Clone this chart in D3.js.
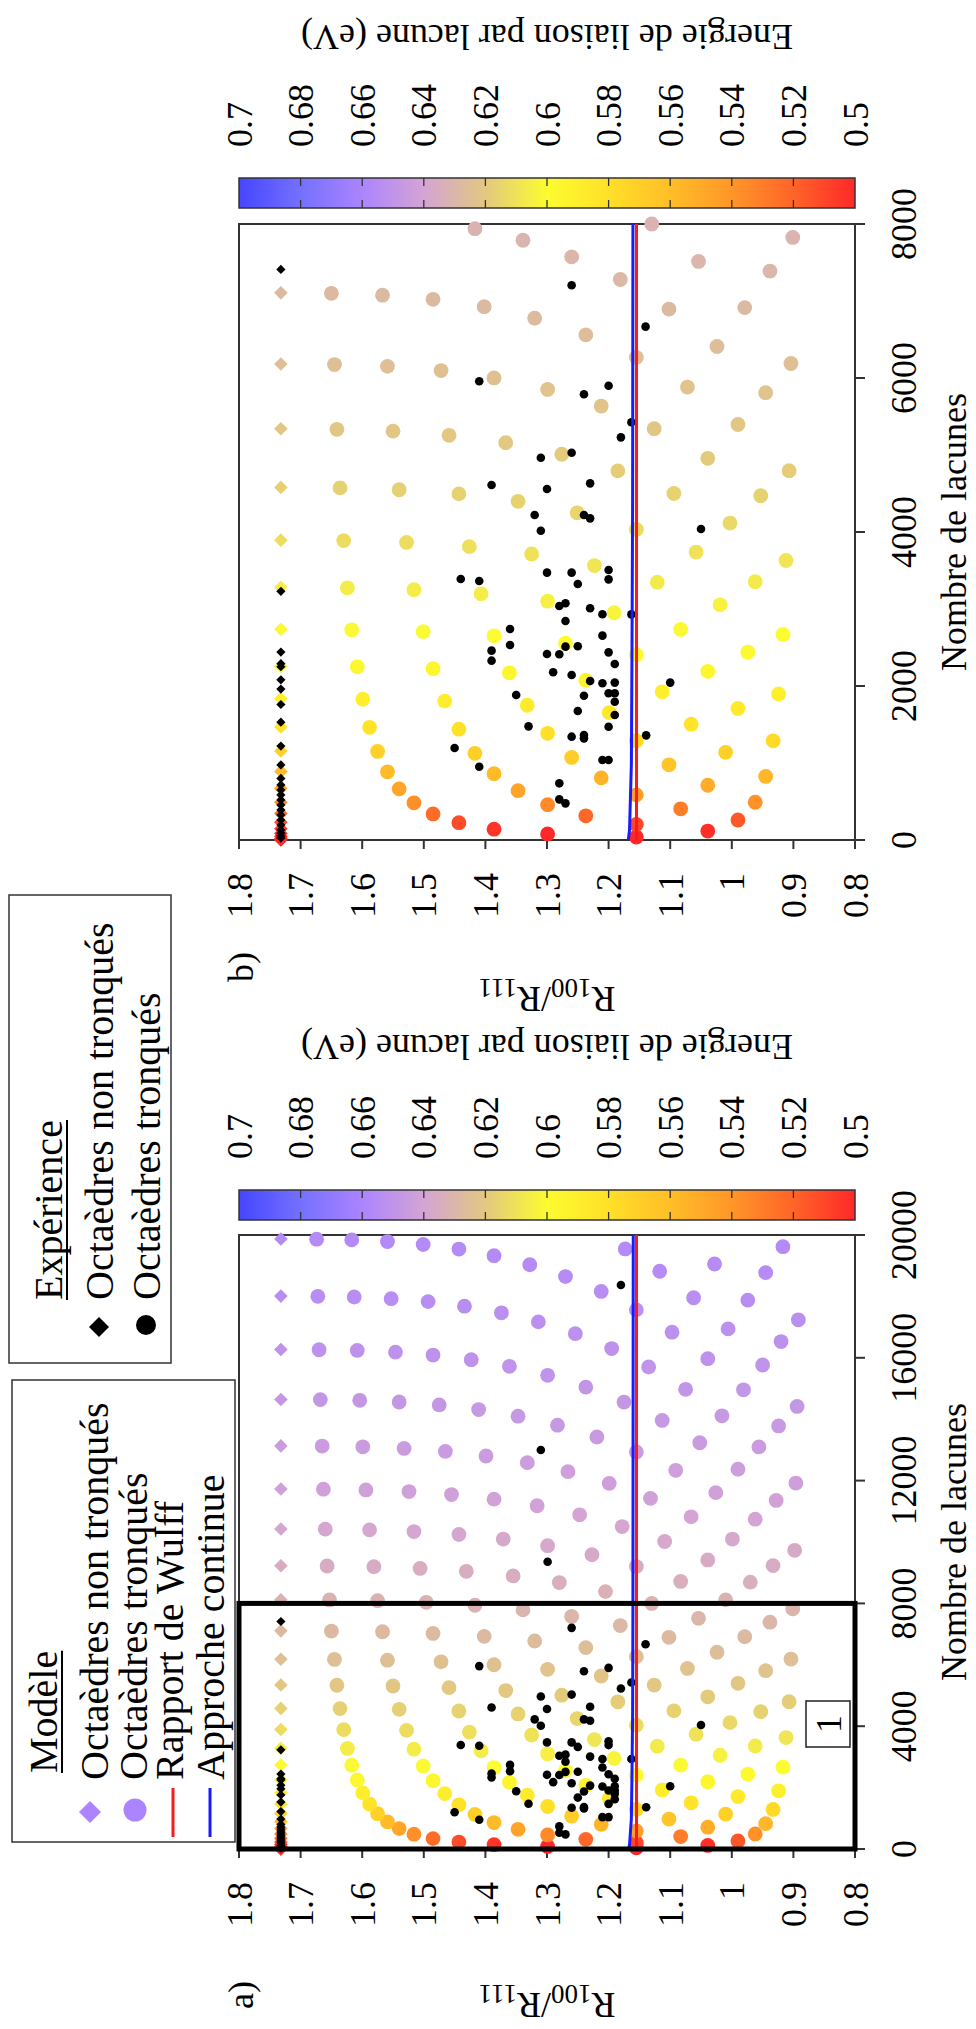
<!DOCTYPE html>
<html><head><meta charset="utf-8">
<script src="https://cdn.jsdelivr.net/npm/d3@7"></script>
<style>
body{margin:0;background:#fff}
svg{display:block}
text{font-family:"Liberation Serif","Times New Roman",serif;fill:#000}
</style></head>
<body><svg id="fig" width="976" height="2029"></svg>
<script>
// ---------------- DATA ----------------
// Octaèdres non tronqués (modèle): number of vacancies, energy per vacancy (eV)
const octaN = [1,6,19,44,85,146,231,344,489,670,891,1156,1469,1834,2255,2736,3281,3894,4579,5340,6181,7106,8119,9224,10425,11726,13131,14644,16269,18010,19871];
const octaE = [0.500,0.500,0.500,0.500,0.500,0.505,0.513,0.524,0.538,0.549,0.559,0.571,0.582,0.590,0.597,0.601,0.606,0.612,0.617,0.621,0.625,0.628,0.632,0.636,0.639,0.642,0.645,0.648,0.651,0.654,0.656];
const octaRatio = 1.732;

// Octaèdres tronqués (modèle)
const truncN = [
38, 79, 140,116, 225,201, 338,314,260, 483,459,405, 664,640,586,490, 885,861,807,711,
1150,1126,1072,976,826, 1463,1439,1385,1289,1139, 1828,1804,1750,1654,1504,1288,
2249,2225,2171,2075,1925,1709, 2730,2706,2652,2556,2406,2190,1896,
3275,3251,3197,3101,2951,2735,2441, 3888,3864,3810,3714,3564,3348,3054,2670,
4573,4549,4495,4399,4249,4033,3739,3355, 5334,5310,5256,5160,5010,4794,4500,4116,3630,
6175,6151,6097,6001,5851,5635,5341,4957,4471, 7100,7076,7022,6926,6776,6560,6266,5882,5396,4796,
8113,8089,8035,7939,7789,7573,7279,6895,6409,5809, 9218,9194,9140,9044,8894,8678,8384,8000,7514,6914,6188,
10419,10395,10341,10245,10095,9879,9585,9201,8715,8115,7389,
11720,11696,11642,11546,11396,11180,10886,10502,10016,9416,8690,7826,
13125,13101,13047,12951,12801,12585,12291,11907,11421,10821,10095,9231,
14638,14614,14560,14464,14314,14098,13804,13420,12934,12334,11608,10744,9730,
16263,16239,16185,16089,15939,15723,15429,15045,14559,13959,13233,12369,11355,
18004,17980,17926,17830,17680,17464,17170,16786,16300,15700,14974,14110,13096,11920,
19865,19841,19787,19691,19541,19325,19031,18647,18161,17561,16835,15971,14957,13781,
19546,18820,17956,16942,15766,14416, 19055,17879,16529, 18774,17238, 19619];
const truncR = [
1.155, 1.299, 1.386,1.039, 1.443,1.155, 1.485,1.237,0.990, 1.516,1.299,1.083, 1.540,1.347,1.155,0.962, 1.559,1.386,1.212,1.039,
1.575,1.417,1.260,1.102,0.945, 1.588,1.443,1.299,1.155,1.010, 1.599,1.466,1.332,1.199,1.066,0.933,
1.608,1.485,1.361,1.237,1.113,0.990, 1.617,1.501,1.386,1.270,1.155,1.039,0.924,
1.624,1.516,1.407,1.299,1.191,1.083,0.974, 1.630,1.528,1.426,1.325,1.223,1.121,1.019,0.917,
1.636,1.540,1.443,1.347,1.251,1.155,1.058,0.962, 1.641,1.550,1.459,1.367,1.276,1.185,1.094,1.003,0.912,
1.645,1.559,1.472,1.386,1.299,1.212,1.126,1.039,0.953, 1.650,1.567,1.485,1.402,1.320,1.237,1.155,1.072,0.990,0.907,
1.653,1.575,1.496,1.417,1.339,1.260,1.181,1.102,1.024,0.945, 1.657,1.581,1.506,1.431,1.355,1.280,1.205,1.130,1.054,0.979,0.904,
1.660,1.588,1.516,1.443,1.371,1.299,1.227,1.155,1.083,1.010,0.938,
1.663,1.594,1.524,1.455,1.386,1.316,1.247,1.178,1.109,1.039,0.970,0.901,
1.665,1.599,1.532,1.465,1.399,1.332,1.266,1.199,1.132,1.066,0.999,0.933,
1.668,1.604,1.540,1.475,1.411,1.347,1.283,1.219,1.155,1.091,1.026,0.962,0.898,
1.670,1.608,1.546,1.485,1.423,1.361,1.299,1.237,1.175,1.113,1.052,0.990,0.928,
1.672,1.613,1.553,1.493,1.434,1.374,1.314,1.254,1.195,1.135,1.075,1.016,0.956,0.896,
1.674,1.617,1.559,1.501,1.443,1.386,1.328,1.270,1.212,1.155,1.097,1.039,0.981,0.924,
1.173,1.117,1.062,1.006,0.950,0.894, 1.028,0.974,0.920, 0.945,0.892, 0.917];
const truncE = [
0.500, 0.500, 0.504,0.502, 0.512,0.510, 0.523,0.521,0.516, 0.537,0.535,0.530, 0.548,0.547,0.544,0.538, 0.559,0.558,0.555,0.551,
0.571,0.570,0.568,0.564,0.556, 0.582,0.581,0.580,0.577,0.571, 0.590,0.589,0.588,0.586,0.583,0.577,
0.597,0.596,0.595,0.594,0.591,0.587, 0.601,0.601,0.600,0.600,0.598,0.596,0.591,
0.606,0.606,0.606,0.605,0.603,0.601,0.598, 0.612,0.612,0.611,0.610,0.609,0.607,0.604,0.600,
0.617,0.617,0.616,0.616,0.615,0.613,0.610,0.607, 0.621,0.621,0.620,0.620,0.619,0.618,0.616,0.614,0.609,
0.625,0.625,0.624,0.624,0.623,0.622,0.621,0.619,0.616, 0.628,0.628,0.628,0.628,0.627,0.626,0.625,0.623,0.621,0.618,
0.632,0.632,0.632,0.632,0.631,0.630,0.629,0.628,0.626,0.623, 0.636,0.636,0.635,0.635,0.635,0.634,0.633,0.632,0.630,0.628,0.625,
0.639,0.639,0.639,0.639,0.638,0.638,0.637,0.636,0.634,0.632,0.630,
0.642,0.642,0.642,0.642,0.641,0.641,0.640,0.639,0.638,0.636,0.634,0.631,
0.645,0.645,0.645,0.645,0.645,0.644,0.643,0.643,0.642,0.640,0.638,0.636,
0.648,0.648,0.648,0.648,0.647,0.647,0.647,0.646,0.645,0.643,0.642,0.640,0.637,
0.651,0.651,0.651,0.651,0.651,0.650,0.650,0.649,0.648,0.647,0.645,0.644,0.641,
0.654,0.654,0.654,0.654,0.654,0.653,0.653,0.652,0.651,0.650,0.649,0.647,0.645,0.643,
0.656,0.656,0.656,0.656,0.656,0.656,0.655,0.655,0.654,0.653,0.652,0.651,0.649,0.646,
0.656,0.655,0.654,0.652,0.650,0.648, 0.655,0.654,0.652, 0.655,0.653, 0.656];

// Expérience
const expOctaN = [7410,3230,2440,2290,2250,2080,1960,1760,1530,1220,975,800,715,650,585,520,455,390,325,260,195,130,90,55,25];
const expTruncN = [7204,6667,5957,5900,5788,5229,5030,4965,4632,4610,4558,4221,4221,4177,5425,2930,
4017,4039,3472,3472,3506,3385,3325,3390,3364,3039,3074,3009,2931,2844,2740,2532,2654,2511,2516,2459,2329,2416,2412,2437,2286,
2178,2143,2065,2035,2044,2044,1883,1874,1905,1905,1796,1675,1623,1476,1471,1342,1364,1320,1359,1195,952,1039,1039,736,528,476,
9358,12997,18371];
const expTruncR = [1.260,1.140,1.410,1.200,1.240,1.180,1.260,1.310,1.230,1.390,1.300,1.320,1.240,1.230,1.163,1.163,
1.310,1.050,1.300,1.260,1.200,1.200,1.250,1.440,1.410,1.280,1.270,1.230,1.210,1.270,1.360,1.360,1.210,1.270,1.250,1.390,1.390,1.300,1.280,1.200,1.190,
1.290,1.260,1.230,1.210,1.190,1.100,1.350,1.240,1.200,1.190,1.190,1.250,1.190,1.330,1.200,1.260,1.240,1.240,1.139,1.450,1.410,1.210,1.200,1.280,1.280,1.270,
1.299,1.310,1.180];

// Rapport de Wulff / Approche continue
const wulffN = [0, 20000], wulffR = [1.1547, 1.1547];
const contN = [0, 130, 1000, 2500, 4400, 8000, 20000];
const contR = [1.168, 1.166, 1.163, 1.162, 1.161, 1.1605, 1.160];

// Axes / colorbar ticks
const yTicks = [0.8,0.9,1,1.1,1.2,1.3,1.4,1.5,1.6,1.7,1.8];
const xTicksA = [0,4000,8000,12000,16000,20000];
const xTicksB = [0,2000,4000,6000,8000];
const cbTicks = [0.5,0.52,0.54,0.56,0.58,0.6,0.62,0.64,0.66,0.68,0.7];
const cmapE = [0.50,0.52,0.54,0.56,0.58,0.60,0.62,0.64,0.66,0.68,0.70];
const cmapC = ["#ff2828","#ff6428","#ff9628","#ffbe28","#ffe028","#fcfc30","#e2c880","#d4a4d4","#ac84ff","#7470ff","#4646ff"];

// ---------------- DRAW ----------------
const FW = 2029; // original (unrotated) figure width
const svg = d3.select('#fig');
const defs = svg.append('defs');
const root = svg.append('g').attr('transform', `translate(0,${FW}) rotate(-90)`);
const color = d3.scaleLinear().domain(cmapE).range(cmapC).clamp(true);

const grad = defs.append('linearGradient').attr('id','cbgrad')
  .attr('x1',0).attr('y1',0).attr('x2',0).attr('y2',1);
cmapE.slice().reverse().forEach((e)=>{
  grad.append('stop').attr('offset', (0.7-e)/0.2).attr('stop-color', color(e));
});

const V0 = 239, V1 = 855;
const yScale = d3.scaleLinear().domain([0.8,1.8]).range([V1,V0]);

const panels = [
  {id:'a', x0:180, x1:794, xMax:20000, ticks:xTicksA, cb:809, tag:'a)', tagU:20, ylabU:36, cbLabU:994},
  {id:'b', x0:1189, x1:1805, xMax:8000, ticks:xTicksB, cb:1821, tag:'b)', tagU:1047, ylabU:1042, cbLabU:2004}
];

const diamond = (s)=>`M0,${-s}L${s},0L0,${s}L${-s},0Z`;

panels.forEach(p=>{
  const g = root.append('g');
  const x = d3.scaleLinear().domain([0,p.xMax]).range([p.x0,p.x1]);
  defs.append('clipPath').attr('id','clip'+p.id).append('rect')
    .attr('x',p.x0).attr('y',V0).attr('width',p.x1-p.x0).attr('height',V1-V0);

  // frame
  g.append('rect').attr('x',p.x0).attr('y',V0).attr('width',p.x1-p.x0).attr('height',V1-V0)
    .attr('fill','none').attr('stroke','#333').attr('stroke-width',2);
  // y ticks
  yTicks.forEach(t=>{
    g.append('line').attr('x1',p.x0-9).attr('x2',p.x0).attr('y1',yScale(t)).attr('y2',yScale(t))
      .attr('stroke','#333').attr('stroke-width',2);
    g.append('text').attr('x',p.x0-33).attr('y',yScale(t)).attr('dy','0.35em')
      .attr('text-anchor','end').style('font-size','36px').text(String(t));
  });
  p.ticks.forEach(t=>{
    g.append('line').attr('x1',x(t)).attr('x2',x(t)).attr('y1',V1).attr('y2',V1+10)
      .attr('stroke','#333').attr('stroke-width',2);
    g.append('text').attr('x',x(t)).attr('y',916).attr('text-anchor','middle')
      .style('font-size','36px').text(String(t));
  });
  g.append('text').attr('x',(p.x0+p.x1)/2).attr('y',966).attr('text-anchor','middle')
    .style('font-size','36px').text('Nombre de lacunes');
  const yl = g.append('text').attr('transform',`translate(${p.ylabU},547) rotate(-90)`)
    .attr('text-anchor','middle').style('font-size','36px');
  yl.append('tspan').text('R');
  yl.append('tspan').attr('dy',8).style('font-size','27px').text('100');
  yl.append('tspan').attr('dy',-8).text('/R');
  yl.append('tspan').attr('dy',8).style('font-size','27px').text('111');
  g.append('text').attr('x',p.tagU).attr('y',253).style('font-size','36px').text(p.tag);

  // model truncated octahedra
  const pts = truncN.map((n,i)=>({n, r:truncR[i], e:truncE[i]})).filter(d=>d.n<=p.xMax);
  g.append('g').selectAll('circle').data(pts).join('circle')
    .attr('cx',d=>x(d.n)).attr('cy',d=>yScale(d.r)).attr('r',7.4).attr('fill',d=>color(d.e));
  // model octahedra
  const oct = octaN.map((n,i)=>({n, e:octaE[i]})).filter(d=>d.n<=p.xMax);
  g.append('g').selectAll('path').data(oct).join('path')
    .attr('transform',d=>`translate(${x(d.n)},${yScale(octaRatio)})`)
    .attr('d',diamond(6.8)).attr('fill',d=>color(d.e));
  // experiment
  const ex = expTruncN.map((n,i)=>({n, r:expTruncR[i]})).filter(d=>d.n<=p.xMax);
  g.append('g').selectAll('circle').data(ex).join('circle')
    .attr('cx',d=>x(d.n)).attr('cy',d=>yScale(d.r)).attr('r',4.3).attr('fill','#000');
  g.append('g').selectAll('path').data(expOctaN.filter(n=>n<=p.xMax)).join('path')
    .attr('transform',d=>`translate(${x(d)},${yScale(octaRatio)})`)
    .attr('d',diamond(4.6)).attr('fill','#000');
  // lines
  const lw = d3.line().x(d=>x(d[0])).y(d=>yScale(d[1]));
  g.append('path').attr('clip-path',`url(#clip${p.id})`)
    .attr('d',lw(wulffN.map((n,i)=>[n,wulffR[i]]))).attr('fill','none')
    .attr('stroke','#ff1a1a').attr('stroke-width',3);
  g.append('path').attr('clip-path',`url(#clip${p.id})`)
    .attr('d',lw(contN.map((n,i)=>[n,contR[i]]))).attr('fill','none')
    .attr('stroke','#1a1aff').attr('stroke-width',3);

  // colorbar
  g.append('rect').attr('x',p.cb).attr('y',V0).attr('width',30).attr('height',V1-V0)
    .attr('fill','url(#cbgrad)').attr('stroke','#333').attr('stroke-width',1.5);
  const cy = d3.scaleLinear().domain([0.5,0.7]).range([V1,V0]);
  cbTicks.forEach(t=>{
    if (t>0.5 && t<0.7){
      g.append('line').attr('x1',p.cb).attr('x2',p.cb+8).attr('y1',cy(t)).attr('y2',cy(t)).attr('stroke','#333').attr('stroke-width',1.3);
      g.append('line').attr('x1',p.cb+22).attr('x2',p.cb+30).attr('y1',cy(t)).attr('y2',cy(t)).attr('stroke','#333').attr('stroke-width',1.3);
    }
    g.append('text').attr('x',p.cb+61).attr('y',cy(t)).attr('dy','0.35em')
      .style('font-size','36px').text(String(t));
  });
  g.append('text').attr('transform',`translate(${p.cbLabU},547) rotate(-90)`)
    .attr('text-anchor','middle').style('font-size','36px').text('Energie de liaison par lacune (eV)');

  if (p.id==='a'){
    g.append('rect').attr('x',x(0)).attr('y',V0).attr('width',x(8000)-x(0)).attr('height',V1-V0)
      .attr('fill','none').attr('stroke','#000').attr('stroke-width',5);
    g.append('rect').attr('x',282).attr('y',806).attr('width',46).attr('height',44)
      .attr('fill','#fff').attr('stroke','#222').attr('stroke-width',1.5);
    g.append('text').attr('x',305).attr('y',841).attr('text-anchor','middle').style('font-size','36px').text('1');
  }
});

// Legends
function underlined(g, txt, u, v){
  const t = g.append('text').attr('x',u).attr('y',v).style('font-size','40px').text(txt);
  const w = t.node().getComputedTextLength();
  g.append('line').attr('x1',u).attr('x2',u+w).attr('y1',v+5).attr('y2',v+5).attr('stroke','#000').attr('stroke-width',2);
}
const lg = root.append('g');
lg.append('rect').attr('x',187).attr('y',12).attr('width',462).attr('height',223)
  .attr('fill','#fff').attr('stroke','#333').attr('stroke-width',1.5);
underlined(lg,'Modèle',256,57);
const mc = color(0.66);
lg.append('path').attr('transform','translate(217,90)').attr('d',diamond(11)).attr('fill',mc);
lg.append('text').attr('x',249).attr('y',108).style('font-size','40px').text('Octaèdres non tronqués');
lg.append('circle').attr('cx',219).attr('cy',135).attr('r',11.5).attr('fill',mc);
lg.append('text').attr('x',249).attr('y',147).style('font-size','40px').text('Octaèdres tronqués');
lg.append('line').attr('x1',192).attr('x2',241).attr('y1',173).attr('y2',173).attr('stroke','#ff1a1a').attr('stroke-width',3);
lg.append('text').attr('x',249).attr('y',183).style('font-size','40px').text('Rapport de Wulff');
lg.append('line').attr('x1',192).attr('x2',241).attr('y1',210).attr('y2',210).attr('stroke','#1a1aff').attr('stroke-width',3);
lg.append('text').attr('x',249).attr('y',224).style('font-size','40px').text('Approche continue');

lg.append('rect').attr('x',666).attr('y',9).attr('width',468).attr('height',162)
  .attr('fill','#fff').attr('stroke','#333').attr('stroke-width',1.5);
underlined(lg,'Expérience',729,62);
lg.append('path').attr('transform','translate(702,99)').attr('d',diamond(10)).attr('fill','#000');
lg.append('text').attr('x',729).attr('y',113).style('font-size','40px').text('Octaèdres non tronqués');
lg.append('circle').attr('cx',704).attr('cy',146).attr('r',10).attr('fill','#000');
lg.append('text').attr('x',729).attr('y',160).style('font-size','40px').text('Octaèdres tronqués');
</script></body></html>
